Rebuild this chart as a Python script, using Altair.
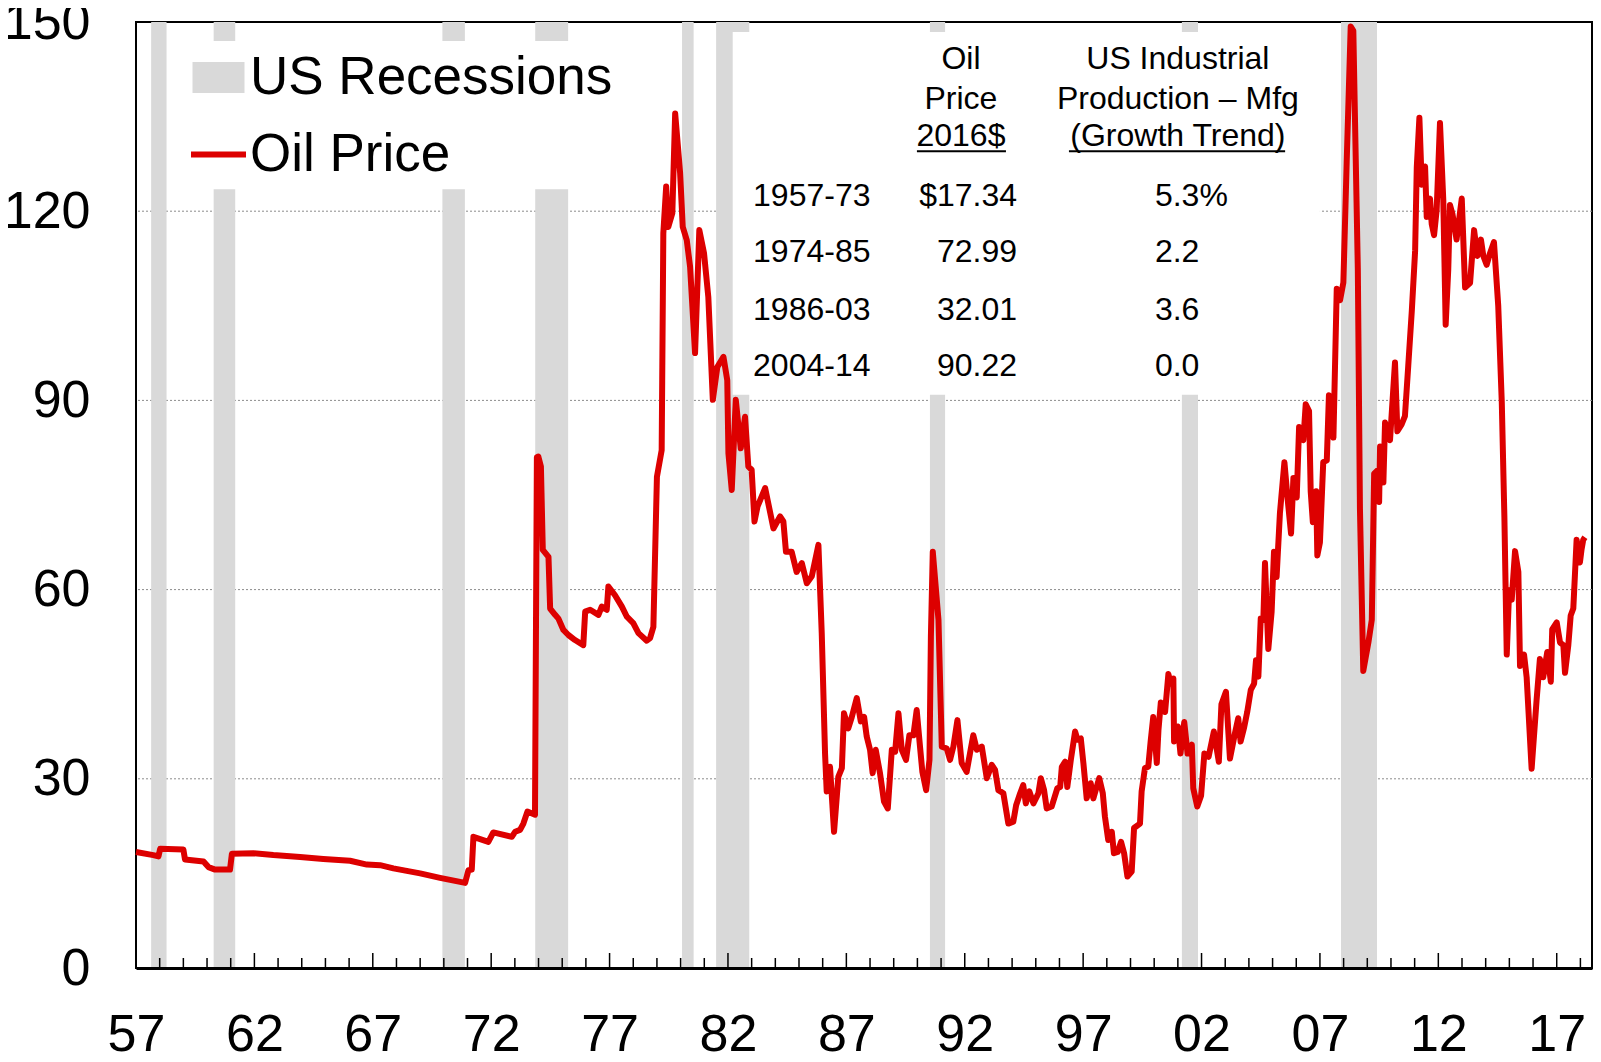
import altair as alt
import pandas as pd

# ---------------- data ----------------
rec_start = [1957.64, 1960.28, 1969.94, 1973.86, 1980.06, 1981.50, 1990.53, 2001.17, 2007.89]
rec_end   = [1958.29, 1961.19, 1970.89, 1975.25, 1980.55, 1982.90, 1991.17, 2001.85, 2009.41]

oil_t = [1957.00, 1957.73, 1957.95, 1958.02, 1959.00, 1959.07, 1959.85, 1960.06, 1960.34, 1960.97,
         1961.05, 1961.96, 1962.80, 1963.93, 1964.91, 1966.04, 1966.75, 1967.31, 1967.87, 1969.00,
         1969.84, 1970.90, 1971.04, 1971.18, 1971.25, 1971.88, 1972.09, 1972.87, 1973.01, 1973.22,
         1973.36, 1973.53, 1973.85, 1973.93, 1973.99, 1974.10, 1974.18, 1974.42, 1974.49, 1974.70,
         1974.84, 1975.05, 1975.26, 1975.54, 1975.89, 1975.97, 1976.18, 1976.53, 1976.67, 1976.88,
         1976.95, 1977.23, 1977.52, 1977.73, 1978.00, 1978.22, 1978.57, 1978.71, 1978.85, 1979.00,
         1979.20, 1979.27, 1979.39, 1979.48, 1979.65, 1979.77, 1979.98, 1980.09, 1980.26, 1980.40,
         1980.61, 1980.79, 1980.99, 1981.17, 1981.36, 1981.55, 1981.81, 1981.97, 1982.02, 1982.16,
         1982.33, 1982.54, 1982.72, 1982.86, 1983.00, 1983.12, 1983.25, 1983.57, 1983.92, 1984.20,
         1984.34, 1984.45, 1984.69, 1984.90, 1985.12, 1985.33, 1985.54, 1985.82, 1985.96, 1986.10,
         1986.17, 1986.31, 1986.48, 1986.66, 1986.81, 1986.90, 1987.08, 1987.23, 1987.44, 1987.61,
         1987.75, 1987.86, 1988.00, 1988.11, 1988.24, 1988.42, 1988.59, 1988.75, 1988.92, 1989.06,
         1989.20, 1989.34, 1989.52, 1989.66, 1989.83, 1989.97, 1990.11, 1990.21, 1990.37, 1990.51,
         1990.57, 1990.65, 1990.89, 1991.03, 1991.24, 1991.38, 1991.52, 1991.69, 1991.87, 1992.08,
         1992.22, 1992.36, 1992.51, 1992.72, 1992.93, 1993.14, 1993.28, 1993.42, 1993.63, 1993.84,
         1994.05, 1994.17, 1994.34, 1994.47, 1994.58, 1994.73, 1994.90, 1995.11, 1995.21, 1995.35,
         1995.46, 1995.67, 1995.91, 1996.03, 1996.10, 1996.24, 1996.33, 1996.48, 1996.66, 1996.76,
         1996.90, 1997.01, 1997.15, 1997.32, 1997.43, 1997.57, 1997.68, 1997.83, 1997.92, 1998.06,
         1998.21, 1998.30, 1998.46, 1998.60, 1998.73, 1998.87, 1999.05, 1999.15, 1999.40, 1999.47,
         1999.61, 1999.75, 1999.85, 1999.96, 2000.11, 2000.18, 2000.28, 2000.46, 2000.60, 2000.70,
         2000.81, 2000.84, 2001.00, 2001.11, 2001.27, 2001.41, 2001.59, 2001.65, 2001.82, 2001.98,
         2002.12, 2002.30, 2002.52, 2002.73, 2002.84, 2003.03, 2003.20, 2003.41, 2003.55, 2003.65,
         2003.79, 2003.93, 2004.08, 2004.22, 2004.30, 2004.40, 2004.50, 2004.61, 2004.68, 2004.82,
         2004.96, 2005.06, 2005.17, 2005.31, 2005.50, 2005.64, 2005.78, 2005.88, 2006.02, 2006.12,
         2006.30, 2006.40, 2006.54, 2006.61, 2006.70, 2006.84, 2006.89, 2007.00, 2007.14, 2007.29,
         2007.38, 2007.57, 2007.71, 2007.85, 2007.99, 2008.13, 2008.30, 2008.41, 2008.60, 2008.69,
         2008.83, 2009.05, 2009.19, 2009.29, 2009.40, 2009.50, 2009.54, 2009.68, 2009.75, 2009.96,
         2010.17, 2010.27, 2010.45, 2010.59, 2010.73, 2010.88, 2011.02, 2011.09, 2011.20, 2011.30,
         2011.44, 2011.51, 2011.65, 2011.72, 2011.82, 2011.93, 2012.07, 2012.21, 2012.31, 2012.42,
         2012.49, 2012.60, 2012.77, 2012.99, 2013.13, 2013.34, 2013.51, 2013.65, 2013.80, 2013.90,
         2014.04, 2014.18, 2014.35, 2014.53, 2014.68, 2014.79, 2014.89, 2014.99, 2015.10, 2015.24,
         2015.38, 2015.45, 2015.62, 2015.73, 2015.94, 2016.15, 2016.29, 2016.43, 2016.60, 2016.75,
         2016.81, 2017.00, 2017.14, 2017.28, 2017.35, 2017.49, 2017.59, 2017.70, 2017.77, 2017.84,
         2017.98, 2018.05, 2018.12, 2018.19]

oil_v = [18.4, 17.9, 17.7, 18.9, 18.8, 17.2, 16.9, 16.0, 15.6, 15.6,
         18.1, 18.2, 17.9, 17.6, 17.3, 17.0, 16.4, 16.3, 15.8, 15.0,
         14.3, 13.5, 15.5, 15.6, 20.8, 20.0, 21.5, 20.8, 21.6, 21.9,
         22.9, 24.8, 24.3, 81.0, 81.1, 79.5, 66.3, 65.2, 57.0, 56.0,
         55.4, 53.6, 52.8, 52.0, 51.2, 56.5, 56.8, 56.0, 57.3, 56.8,
         60.5, 59.1, 57.3, 55.7, 54.7, 53.1, 51.9, 52.3, 54.1, 77.9,
         82.1, 116.5, 123.9, 117.5, 119.7, 135.5, 126.0, 117.5, 115.4, 111.2,
         97.5, 117.0, 113.3, 106.4, 90.1, 95.3, 96.9, 93.2, 81.6, 75.8,
         90.1, 82.4, 87.4, 79.5, 79.0, 70.8, 73.2, 76.1, 69.7, 71.6,
         70.8, 66.0, 66.0, 62.8, 64.2, 61.0, 62.1, 67.1, 53.1, 34.0,
         28.0, 31.9, 21.6, 30.3, 31.7, 40.4, 38.0, 39.8, 42.8, 39.1,
         39.8, 36.7, 34.6, 30.9, 34.6, 30.9, 26.4, 25.3, 34.6, 34.3,
         40.4, 34.6, 33.0, 36.9, 36.9, 40.9, 35.1, 31.1, 28.2, 33.0,
         52.5, 66.0, 55.2, 35.1, 34.8, 33.0, 35.1, 39.3, 32.5, 31.1,
         34.0, 36.9, 34.6, 35.1, 30.1, 32.2, 31.4, 28.2, 27.7, 22.9,
         23.2, 25.8, 27.7, 29.0, 26.1, 28.0, 26.1, 27.7, 30.1, 28.2,
         25.3, 25.6, 28.5, 28.7, 31.9, 32.7, 28.7, 33.0, 37.5, 36.2,
         36.4, 32.5, 26.9, 29.3, 26.9, 28.7, 30.1, 27.7, 24.0, 20.3,
         21.6, 18.2, 18.4, 20.0, 18.2, 14.5, 15.3, 22.2, 22.9, 28.0,
         31.7, 31.9, 35.9, 39.8, 32.5, 37.7, 42.1, 40.6, 46.6, 45.1,
         45.9, 35.9, 38.3, 34.0, 39.0, 34.0, 35.4, 28.5, 25.6, 27.3,
         34.0, 33.5, 37.5, 32.7, 41.8, 43.8, 33.2, 37.2, 39.6, 35.9,
         38.0, 40.6, 44.1, 45.1, 48.8, 46.2, 55.4, 55.2, 64.2, 50.6,
         56.5, 66.0, 62.0, 72.1, 80.2, 74.2, 68.9, 77.7, 74.6, 85.8,
         83.7, 89.4, 88.3, 75.6, 70.7, 75.6, 65.4, 67.5, 80.2, 80.5,
         90.8, 84.1, 107.7, 105.9, 108.7, 127.8, 149.3, 148.6, 110.9, 72.8,
         47.1, 51.7, 55.2, 78.4, 78.8, 73.9, 82.7, 77.0, 86.5, 83.7,
         96.0, 85.1, 86.2, 87.5, 95.5, 104.2, 113.7, 127.0, 134.8, 124.2,
         127.1, 119.1, 122.0, 118.0, 116.2, 120.2, 134.0, 121.7, 102.0, 110.8,
         121.0, 119.5, 115.5, 122.0, 107.9, 108.6, 117.0, 112.9, 115.5, 112.9,
         111.5, 113.3, 115.1, 105.0, 89.7, 71.5, 49.7, 59.9, 58.4, 66.1,
         62.8, 47.9, 49.7, 46.1, 31.6, 42.5, 49.0, 46.1, 50.1, 45.4,
         53.7, 54.8, 51.6, 51.2, 46.8, 51.2, 55.9, 57.0, 62.4, 67.9,
         64.3, 66.4, 67.9, 68.3]

y_tick_values = [0, 30, 60, 90, 120, 150]
grid_values = [30, 60, 90, 120]
x_tick_years = [1957, 1962, 1967, 1972, 1977, 1982, 1987, 1992, 1997, 2002, 2007, 2012, 2017]
x_tick_labels = ["57", "62", "67", "72", "77", "82", "87", "92", "97", "02", "07", "12", "17"]
minor_tick_years = [y for y in range(1958, 2019) if y not in x_tick_years]
major_tick_years = [y for y in x_tick_years if y > 1957]

table_periods = ["1957-73", "1974-85", "1986-03", "2004-14"]
table_oil = ["$17.34", "72.99", "32.01", "90.22"]
table_growth = ["5.3%", "2.2", "3.6", "0.0"]
hdr_oil = ["Oil", "Price", "2016$"]
hdr_ip = ["US Industrial", "Production \u2013 Mfg", "(Growth Trend)"]

# ---------------- layout constants ----------------
W, H = 1456, 946
X_DOM = [1957, 2018.49]
Y_DOM = [0, 150]
FONT = "Liberation Sans"
RED = "#dd0000"
GRAY = "#d9d9d9"

xs = alt.Scale(domain=X_DOM, nice=False, zero=False)
ys = alt.Scale(domain=Y_DOM, nice=False, zero=False)

rec_df = pd.DataFrame({"start": rec_start, "end": rec_end, "label": "US Recessions"})
oil_df = pd.DataFrame({"t": oil_t, "v": oil_v, "series": "Oil Price"})

x_axis = alt.Axis(values=x_tick_years, title=None, grid=False, ticks=False,
                  domain=True, domainColor="black", domainWidth=3,
                  labelFont=FONT, labelFontSize=52, labelColor="black",
                  labelPadding=41, labelFlush=False, labelOverlap=False,
                  labelExpr="%s[indexof(%s, datum.value)]" % (
                      "[" + ",".join("'%s'" % s for s in x_tick_labels) + "]",
                      "[" + ",".join(str(v) for v in x_tick_years) + "]"),
                  zindex=1)
y_axis = alt.Axis(values=y_tick_values, title=None, grid=False, ticks=False, domain=False,
                  labelFont=FONT, labelFontSize=52, labelColor="black", labelPadding=46,
                  labelOverlap=False)

# gridlines
grid = alt.Chart(pd.DataFrame({"g": grid_values})).mark_rule(
    color="#8c8c8c", strokeWidth=1, strokeDash=[2, 2]
).encode(y=alt.Y("g:Q", scale=ys, axis=y_axis))

# recession bars
bars = alt.Chart(rec_df).mark_rect(opacity=1).encode(
    x=alt.X("start:Q", scale=xs, axis=x_axis),
    x2="end:Q",
    y=alt.datum(Y_DOM[0]),
    y2=alt.datum(Y_DOM[1]),
    color=alt.Color("label:N",
                    scale=alt.Scale(domain=["US Recessions"], range=[GRAY]),
                    legend=alt.Legend(title=None, orient="none", legendX=46, legendY=19,
                                      padding=10,
                                      symbolType="M-1,-0.6H1V0.6H-1Z", symbolSize=2704,
                                      symbolStrokeWidth=0, symbolOpacity=1,
                                      labelFont=FONT, labelFontSize=53, labelColor="black",
                                      labelOffset=5, labelLimit=1000, zindex=1)),
)

# white backgrounds behind the legend and the annotation table
box_df = pd.DataFrame({"x0": [1959.0, 1982.2], "x1": [1977.5, 2007.0],
                       "y0": [123.5, 90.9], "y1": [147.0, 148.4]})
boxes = alt.Chart(box_df).mark_rect(color="white").encode(
    x="x0:Q", x2="x1:Q", y="y0:Q", y2="y1:Q")

# oil price line
line = alt.Chart(oil_df).mark_line(strokeWidth=6, strokeJoin="round").encode(
    x=alt.X("t:Q", scale=xs),
    y=alt.Y("v:Q", scale=ys),
    stroke=alt.Stroke("series:N",
                      scale=alt.Scale(domain=["Oil Price"], range=[RED]),
                      legend=alt.Legend(title=None, orient="none", legendX=42, legendY=92,
                                        padding=10,
                                        symbolType="stroke", symbolSize=3025,
                                        symbolStrokeWidth=6,
                                        labelFont=FONT, labelFontSize=53, labelColor="black",
                                        labelOffset=1, labelLimit=1000, zindex=1)),
)

# inward x ticks
minor = alt.Chart(pd.DataFrame({"yr": minor_tick_years})).mark_rule(
    color="black", strokeWidth=1.5).encode(
    x=alt.X("yr:Q", scale=xs), y=alt.value(H), y2=alt.value(H - 10))
major = alt.Chart(pd.DataFrame({"yr": major_tick_years})).mark_rule(
    color="black", strokeWidth=1.5).encode(
    x=alt.X("yr:Q", scale=xs), y=alt.value(H), y2=alt.value(H - 15))

# table text
row_y = [122.4, 113.5, 104.4, 95.5]
hdr_y = [144.1, 137.8, 131.9]
TXT = dict(font=FONT, fontSize=32, color="black", baseline="middle")

left_df = pd.DataFrame({
    "txt": table_periods + table_growth,
    "x": [1983.06] * 4 + [2000.03] * 4,
    "y": row_y + row_y})
right_df = pd.DataFrame({"txt": table_oil, "x": [1994.21] * 4, "y": row_y})
center_df = pd.DataFrame({
    "txt": hdr_oil + hdr_ip,
    "x": [1991.84] * 3 + [2001.0] * 3,
    "y": hdr_y + hdr_y})

t_left = alt.Chart(left_df).mark_text(align="left", **TXT).encode(
    x=alt.X("x:Q", scale=xs), y=alt.Y("y:Q", scale=ys), text="txt:N")
t_right = alt.Chart(right_df).mark_text(align="right", **TXT).encode(
    x=alt.X("x:Q", scale=xs), y=alt.Y("y:Q", scale=ys), text="txt:N")
t_center = alt.Chart(center_df).mark_text(align="center", **TXT).encode(
    x=alt.X("x:Q", scale=xs), y=alt.Y("y:Q", scale=ys), text="txt:N")

ul_df = pd.DataFrame({"x0": [1989.98, 1996.40], "x1": [1993.74, 2005.53], "y": [129.5, 129.5]})
underline = alt.Chart(ul_df).mark_rule(color="black", strokeWidth=2).encode(
    x=alt.X("x0:Q", scale=xs), x2="x1:Q", y=alt.Y("y:Q", scale=ys))

chart = alt.layer(
    grid, bars, boxes, line, minor, major, t_left, t_right, t_center, underline
).properties(
    width=W, height=H,
    autosize=alt.AutoSizeParams(type="none"),
    padding={"left": 128, "top": 14, "right": 1, "bottom": 84},
    background="white",
).configure_view(stroke="black", strokeWidth=2)

chart.save("out.html", embed_options={"renderer": "svg", "actions": False})
